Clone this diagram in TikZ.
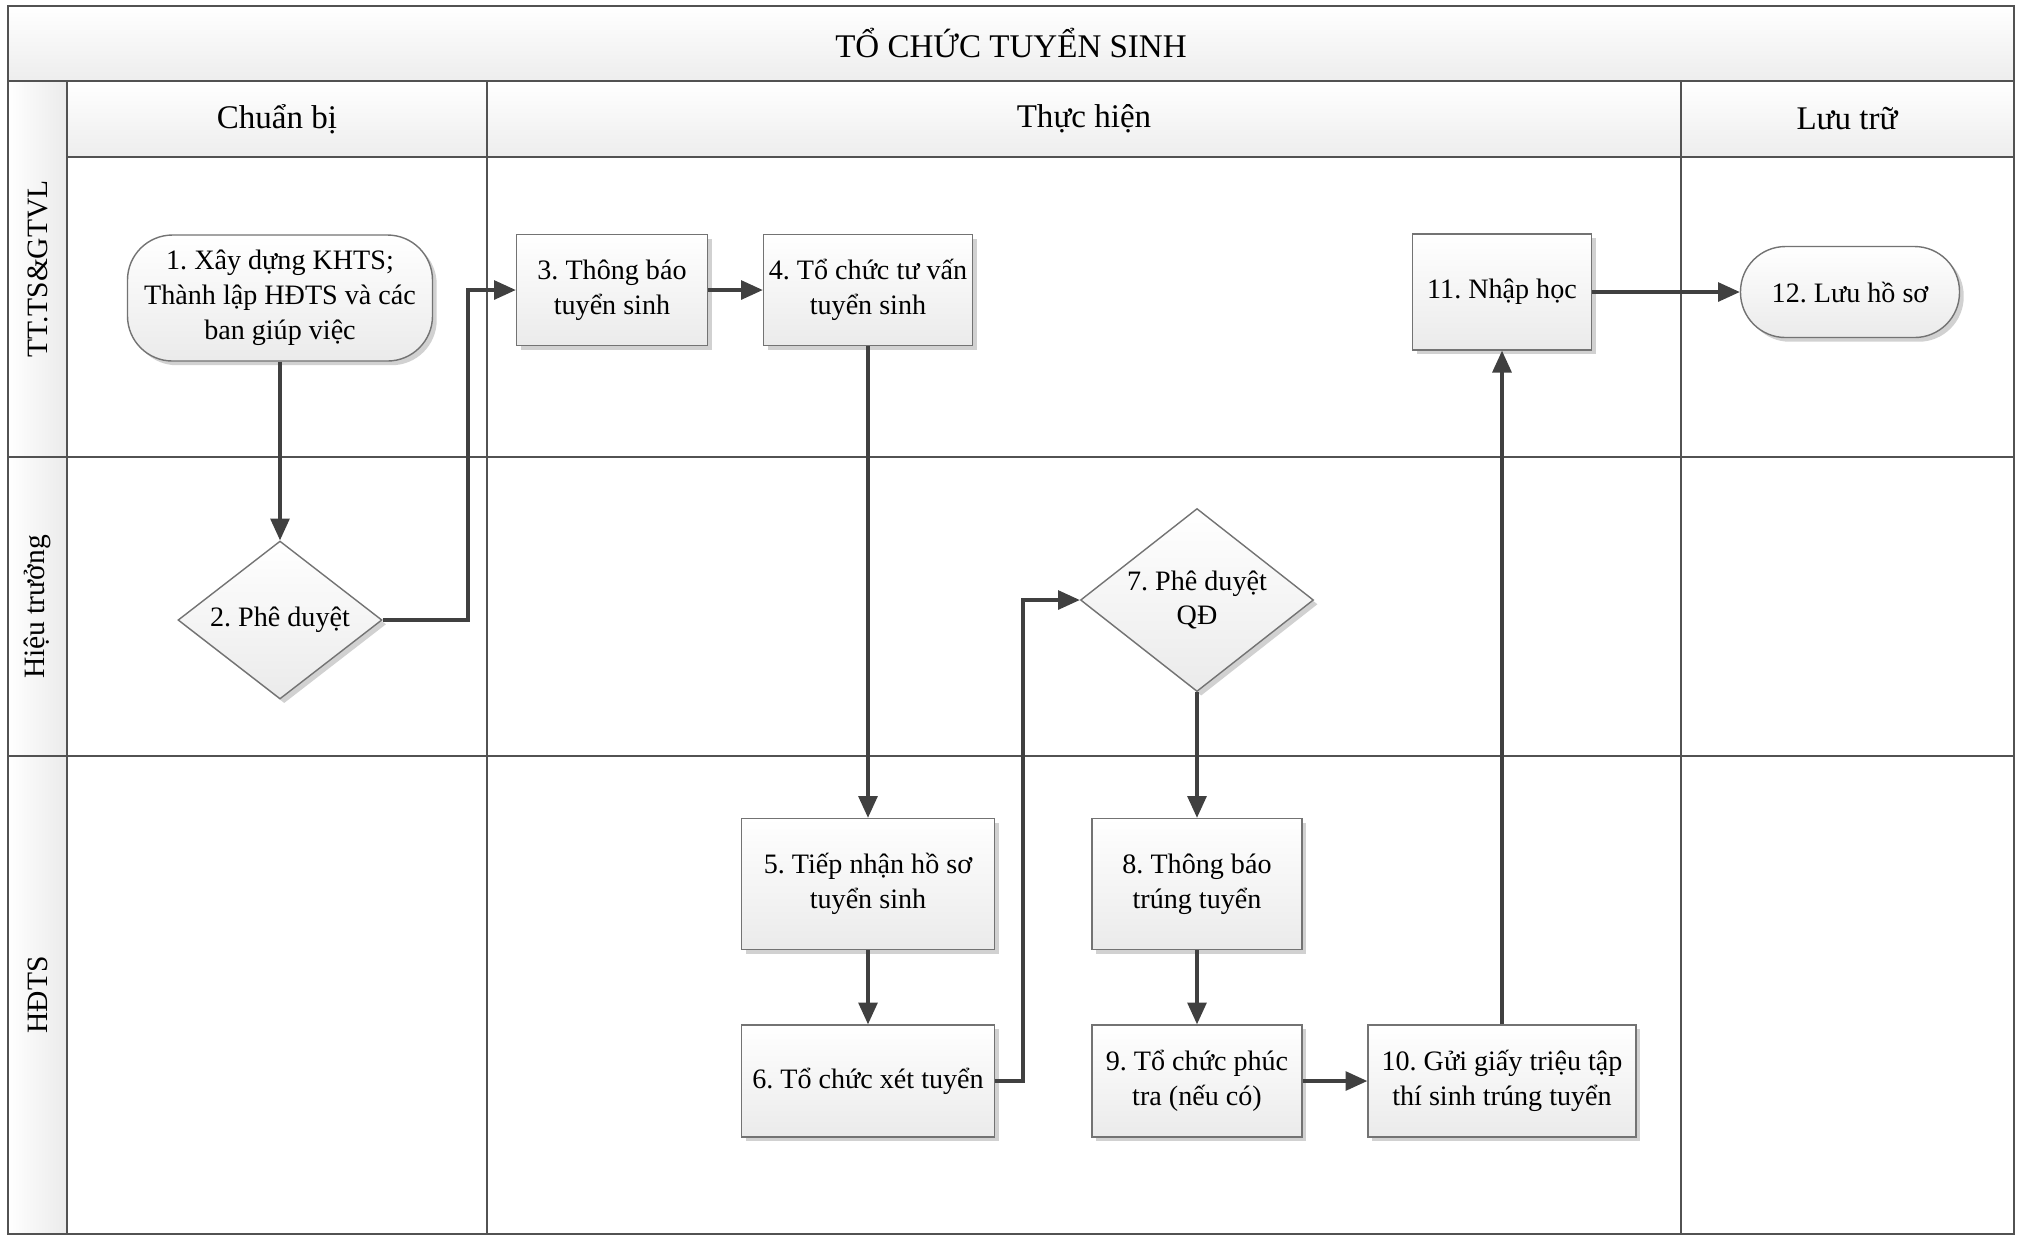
\documentclass[tikz,border=0pt]{standalone}
\usepackage{fontspec}
\setmainfont{Liberation Serif}
\usetikzlibrary{shapes.geometric,arrows.meta,shadows}
\frenchspacing
\begin{document}
\begin{tikzpicture}[
    grid/.style={draw=black!68, line width=0.6pt},
    band/.style={top color=white, bottom color=black!7},
    side/.style={left color=white, right color=black!8},
    head/.style={font=\fontsize{9.4pt}{11pt}\selectfont},
    lane/.style={font=\fontsize{8.4pt}{10pt}\selectfont, rotate=90},
    proc/.style={draw=black!55, line width=0.4pt, top color=white, bottom color=black!8,
        general shadow={fill=black!18, shadow xshift=1.2pt, shadow yshift=-1.2pt},
        align=center, inner sep=0pt, font=\fontsize{8pt}{9.9pt}\selectfont},
    box/.style={proc, rectangle},
    term/.style={proc, rectangle, rounded corners=0.45cm},
    gate/.style={proc, diamond, aspect=1.2},
    flow/.style={draw=black!75, line width=0.9pt, -{Triangle[length=6.2pt,width=5.4pt]}}
]
        \useasboundingbox (0,0) rectangle (20.2,-12.37);
        \fill[band] (0.08,-0.06) rectangle (20.14,-0.81);
        \fill[band] (0.67,-0.81) rectangle (20.14,-1.57);
        \fill[side] (0.08,-0.81) rectangle (0.67,-12.34);
        \draw[grid] (0.08,-0.06) rectangle (20.14,-12.34);
        \draw[grid] (0.08,-0.81) -- (20.14,-0.81) (0.67,-1.57) -- (20.14,-1.57)
            (0.08,-4.57) -- (20.14,-4.57) (0.08,-7.56) -- (20.14,-7.56)
            (0.67,-0.81) -- (0.67,-12.34) (4.87,-0.81) -- (4.87,-12.34) (16.81,-0.81) -- (16.81,-12.34);

        \node[head] (title) at (10.11,-0.43) {TỔ CHỨC TUYỂN SINH};
        \node[head] (prep) at (2.77,-1.19) {Chuẩn bị};
        \node[head] (exec) at (10.84,-1.19) {Thực hiện};
        \node[head] (store) at (18.47,-1.19) {Lưu trữ};
        \node[lane] (laneA) at (0.375,-2.69) {TT.TS\&GTVL};
        \node[lane] (laneB) at (0.375,-6.07) {Hiệu trưởng};
        \node[lane] (laneC) at (0.375,-9.95) {HĐTS};

        \node[term, minimum width=3.05cm, minimum height=1.26cm] (n1) at (2.80,-2.98) {1. Xây dựng KHTS;\\Thành lập HĐTS và các\\ban giúp việc};
        \node[gate, minimum width=2.04cm, minimum height=1.58cm] (n2) at (2.80,-6.20) {2. Phê duyệt};
        \node[box, minimum width=1.91cm, minimum height=1.11cm] (n3) at (6.12,-2.90) {3. Thông báo\\tuyển sinh};
        \node[box, minimum width=2.09cm, minimum height=1.11cm] (n4) at (8.68,-2.90) {4. Tổ chức tư vấn\\tuyển sinh};
        \node[box, minimum width=2.53cm, minimum height=1.31cm] (n5) at (8.68,-8.84) {5. Tiếp nhận hồ sơ\\tuyển sinh};
        \node[box, minimum width=2.53cm, minimum height=1.12cm] (n6) at (8.68,-10.81) {6. Tổ chức xét tuyển};
        \node[gate, minimum width=2.33cm, minimum height=1.83cm] (n7) at (11.97,-6.00) {7. Phê duyệt\\QĐ};
        \node[box, minimum width=2.10cm, minimum height=1.31cm] (n8) at (11.97,-8.84) {8. Thông báo\\trúng tuyển};
        \node[box, minimum width=2.10cm, minimum height=1.12cm] (n9) at (11.97,-10.81) {9. Tổ chức phúc\\tra (nếu có)};
        \node[box, minimum width=2.68cm, minimum height=1.12cm] (n10) at (15.02,-10.81) {10. Gửi giấy triệu tập\\thí sinh trúng tuyển};
        \node[box, minimum width=1.79cm, minimum height=1.16cm] (n11) at (15.02,-2.92) {11. Nhập học};
        \node[term, minimum width=2.19cm, minimum height=0.91cm] (n12) at (18.50,-2.92) {12. Lưu hồ sơ};

        \coordinate (j23) at (4.68,0);
        \coordinate (j67) at (10.23,0);
        \draw[flow] (n1) -- (n2);
        \draw[flow] (n2.east) -- (n2.east -| j23) |- (n3.west);
        \draw[flow] (n3) -- (n4);
        \draw[flow] (n4) -- (n5);
        \draw[flow] (n5) -- (n6);
        \draw[flow] (n6.east) -- (n6.east -| j67) |- (n7.west);
        \draw[flow] (n7) -- (n8);
        \draw[flow] (n8) -- (n9);
        \draw[flow] (n9) -- (n10);
        \draw[flow] (n10) -- (n11);
        \draw[flow] (n11) -- (n12);
    \end{tikzpicture}
\end{document}
